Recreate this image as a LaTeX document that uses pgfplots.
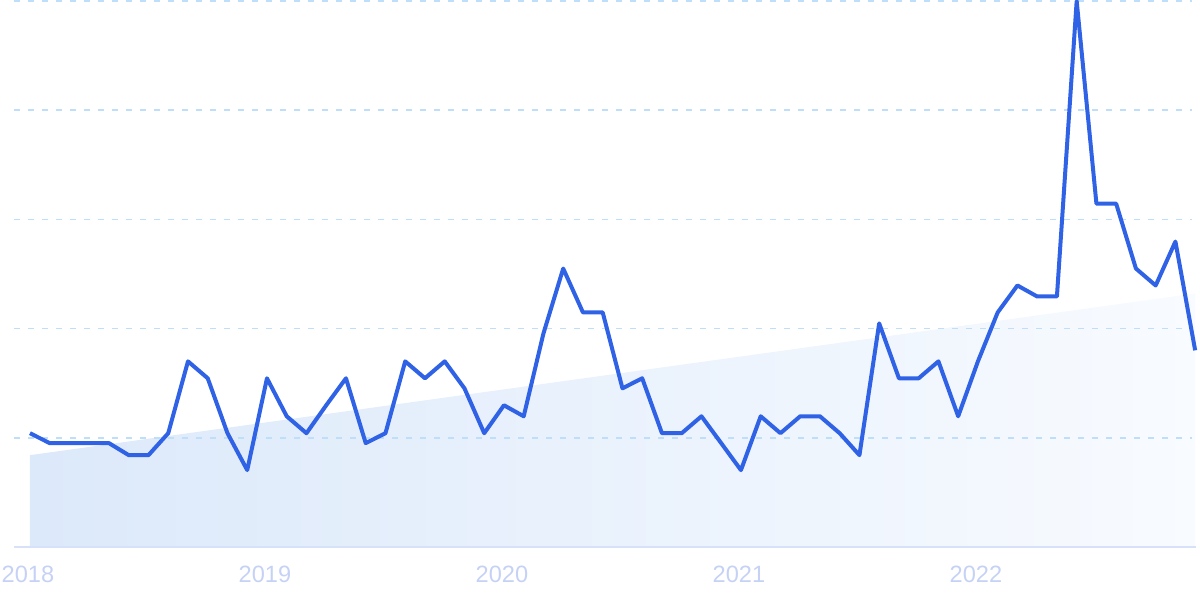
\documentclass[border=0pt]{standalone}
\usepackage{pgfplots}
\pgfplotsset{compat=1.18}
\usepackage{fontspec}
\setmainfont{Liberation Sans}
\definecolor{linec}{RGB}{47,98,229}
\definecolor{gridc}{RGB}{190,222,250}
\definecolor{basec}{RGB}{215,226,250}
\definecolor{labc}{RGB}{198,210,245}
\definecolor{fillL}{RGB}{220,233,250}
\definecolor{fillR}{RGB}{248,251,255}
\begin{document}
\begin{tikzpicture}
\begin{axis}[
  set layers,
  at={(7pt,26.5pt)}, anchor=south west,
  scale only axis, width=589pt, height=273pt,
  xmin=-0.81, xmax=58.84, ymin=0, ymax=5,
  axis x line*=bottom, axis y line*=left,
  x axis line style={draw=basec, line width=0.9pt, -, shorten >=-2pt},
  y axis line style={draw=none},
  xtick={0,12,24,36,48}, xticklabels={2018,2019,2020,2021,2022},
  major tick length=0pt,
  xticklabel style={anchor=center, yshift=-13.5pt, xshift=-1pt, text=labc, font=\fontsize{11.8}{14}\selectfont},
  ytick={1,2,3,4,5}, yticklabels={},
  ymajorgrids, major grid style={draw=gridc, line width=0.8pt, dash pattern=on 3pt off 4pt},
  clip=false,
]
\addplot[on layer=axis background, draw=none, left color=fillL, right color=fillR] coordinates {(0,0.841) (59,2.322)} \closedcycle;
\addplot[linec, line width=2pt, line join=round] coordinates {
(0,1.042) (1,0.951) (2,0.951) (3,0.951) (4,0.951) (5,0.841) (6,0.841) (7,1.042)
(8,1.700) (9,1.545) (10,1.042) (11,0.704) (12,1.545) (13,1.197) (14,1.042) (15,1.298)
(16,1.545) (17,0.951) (18,1.042) (19,1.700) (20,1.545) (21,1.700) (22,1.453) (23,1.042)
(24,1.298) (25,1.197) (26,1.956) (27,2.550) (28,2.148) (29,2.148) (30,1.453) (31,1.545)
(32,1.042) (33,1.042) (34,1.197) (35,0.951) (36,0.704) (37,1.197) (38,1.042) (39,1.197)
(40,1.197) (41,1.042) (42,0.841) (43,2.048) (44,1.545) (45,1.545) (46,1.700) (47,1.197)
(48,1.700) (49,2.148) (50,2.395) (51,2.294) (52,2.294) (53,5.0) (54,3.144) (55,3.144)
(56,2.550) (57,2.395) (58,2.797) (59,1.801)
};
\end{axis}
\pgfresetboundingbox
\path[use as bounding box] (0,0) rectangle (600pt,300pt);
\end{tikzpicture}
\end{document}
